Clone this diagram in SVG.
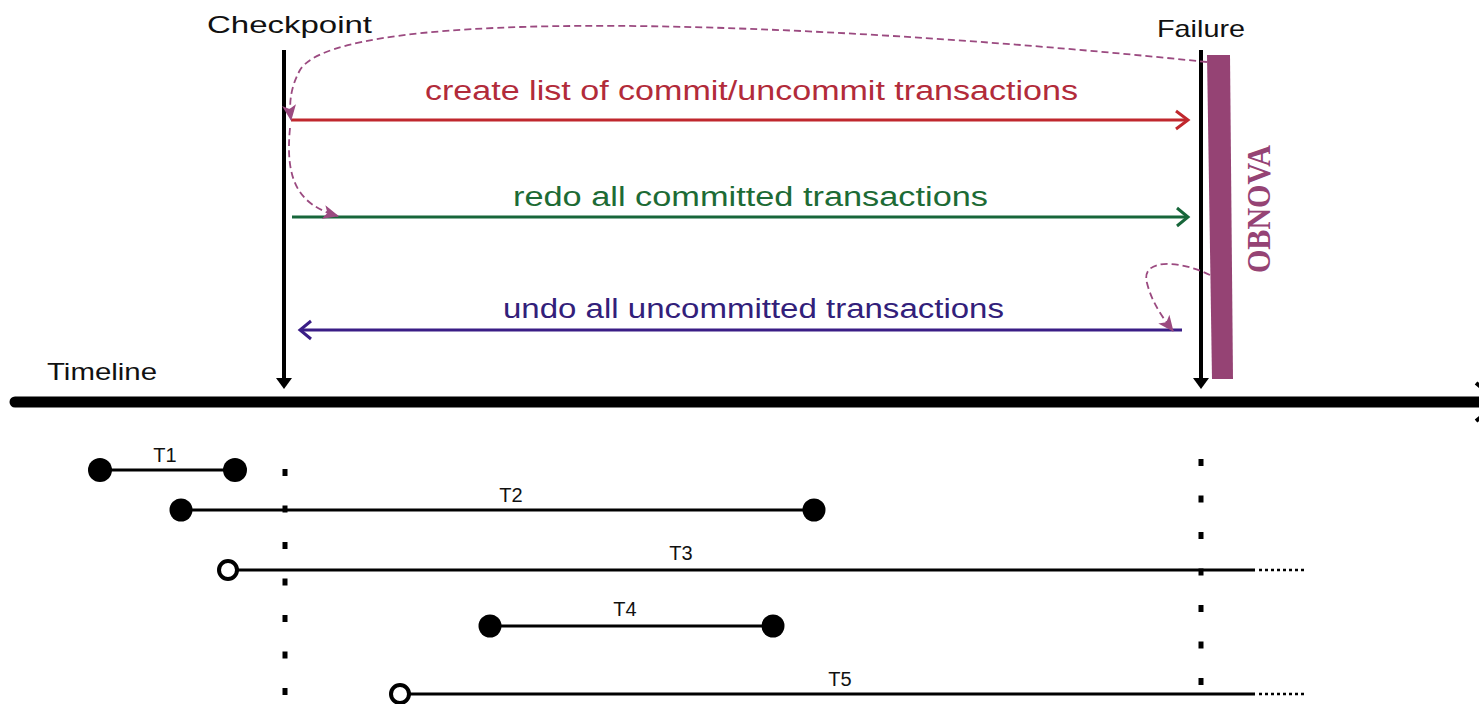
<svg xmlns="http://www.w3.org/2000/svg" width="1479" height="704" viewBox="0 0 1479 704">
<style>
.lbl{font-family:"Liberation Sans",Arial,sans-serif;fill:#111}
.big{font-size:24px}
.t{font-size:20px}
.msg{font-family:"Liberation Sans",Arial,sans-serif;font-size:27px}
.dash{fill:none;stroke:#9b4a80;stroke-width:1.8;stroke-dasharray:7 4}
.tx{stroke:#000;stroke-width:3;fill:none}
.dot{fill:#000}
.open{fill:#fff;stroke:#000;stroke-width:4}
.vdots{stroke:#000;stroke-width:5;fill:none}
.tail{stroke:#000;stroke-width:2.5;stroke-dasharray:3 3;fill:none}
</style>
<defs>
<marker id="pArrow" markerWidth="16" markerHeight="14" refX="15" refY="7" orient="auto" markerUnits="userSpaceOnUse">
<path d="M0,0 L16,7 L0,14 L4,7 Z" fill="#9b4a80"/>
</marker>
</defs>
<rect width="1479" height="704" fill="#fff"/>

<g id="timeline">
<line x1="15" y1="402" x2="1479" y2="402" stroke="#000" stroke-width="11" stroke-linecap="round"/>
<path d="M1476,383 L1500,402 L1476,421" fill="none" stroke="#000" stroke-width="4"/>
<text class="lbl big" x="47" y="380" textLength="110" lengthAdjust="spacingAndGlyphs">Timeline</text>
</g>

<g id="checkpoint">
<line x1="284" y1="50" x2="284" y2="380" stroke="#000" stroke-width="4"/>
<path d="M276,378 L292,378 L284,389 Z" fill="#000"/>
<text class="lbl big" x="207" y="33" textLength="165" lengthAdjust="spacingAndGlyphs">Checkpoint</text>
<line class="vdots" x1="285" y1="469" x2="285" y2="700" stroke-dasharray="7 29.5"/>
</g>

<g id="failure">
<line x1="1201" y1="50" x2="1201" y2="380" stroke="#000" stroke-width="4"/>
<path d="M1193,378 L1209,378 L1201,389 Z" fill="#000"/>
<text class="lbl big" x="1157" y="37" textLength="88" lengthAdjust="spacingAndGlyphs">Failure</text>
<line class="vdots" x1="1201" y1="459" x2="1201" y2="700" stroke-dasharray="7 29.5"/>
</g>

<g id="obnova">
<polygon points="1207,55 1230,55 1233,379 1212,379" fill="#954374"/>
<text transform="translate(1270,209) rotate(-90)" x="0" y="0" text-anchor="middle" font-family="'Liberation Serif','Times New Roman',serif" font-weight="bold" font-size="33" fill="#954374" textLength="128" lengthAdjust="spacingAndGlyphs">OBNOVA</text>
</g>

<g id="create-list">
<line x1="291" y1="120" x2="1187" y2="120" stroke="#c0272d" stroke-width="3"/>
<path d="M1176,111 L1188,120 L1176,129" fill="none" stroke="#c0272d" stroke-width="3"/>
<text class="msg" x="425" y="100" fill="#b22b3a" textLength="653" lengthAdjust="spacingAndGlyphs">create list of commit/uncommit transactions</text>
</g>

<g id="redo">
<line x1="292" y1="217" x2="1187" y2="217" stroke="#17663a" stroke-width="3"/>
<path d="M1177,208 L1188,217 L1177,226" fill="none" stroke="#17663a" stroke-width="3"/>
<text class="msg" x="513" y="206" fill="#1d6b35" textLength="475" lengthAdjust="spacingAndGlyphs">redo all committed transactions</text>
</g>

<g id="undo">
<line x1="301" y1="330" x2="1182" y2="330" stroke="#3a1d86" stroke-width="3"/>
<path d="M311,321 L300,330 L311,339" fill="none" stroke="#3a1d86" stroke-width="3"/>
<text class="msg" x="503" y="318" fill="#32207a" textLength="501" lengthAdjust="spacingAndGlyphs">undo all uncommitted transactions</text>
</g>

<g id="connectors">
<path class="dash" d="M1207,62 C 800,20 340,5 300,70 C 290,88 289,105 291,120" marker-end="url(#pArrow)"/>
<path class="dash" d="M290,128 C 285,180 298,205 338,216" marker-end="url(#pArrow)"/>
<path class="dash" d="M1210,275 C 1180,260 1140,258 1147,283 C 1152,303 1163,318 1173,331" marker-end="url(#pArrow)"/>
</g>

<g id="T1">
<line class="tx" x1="100" y1="470" x2="235" y2="470"/>
<circle class="dot" cx="100" cy="470" r="12"/>
<circle class="dot" cx="235" cy="470" r="12"/>
<text class="lbl t" x="165" y="462" text-anchor="middle">T1</text>
</g>
<g id="T2">
<line class="tx" x1="181" y1="510" x2="814" y2="510"/>
<circle class="dot" cx="181" cy="510" r="11.5"/>
<circle class="dot" cx="814" cy="510" r="11.5"/>
<text class="lbl t" x="511" y="502" text-anchor="middle">T2</text>
</g>
<g id="T3">
<line class="tx" x1="228" y1="570" x2="1255" y2="570"/>
<line class="tail" x1="1259" y1="570" x2="1306" y2="570"/>
<circle class="open" cx="228" cy="570" r="9"/>
<text class="lbl t" x="681" y="560" text-anchor="middle">T3</text>
</g>
<g id="T4">
<line class="tx" x1="490" y1="626" x2="773" y2="626"/>
<circle class="dot" cx="490" cy="626" r="11.5"/>
<circle class="dot" cx="773" cy="626" r="11.5"/>
<text class="lbl t" x="625" y="616" text-anchor="middle">T4</text>
</g>
<g id="T5">
<line class="tx" x1="400" y1="694" x2="1255" y2="694"/>
<line class="tail" x1="1259" y1="694" x2="1306" y2="694"/>
<circle class="open" cx="400" cy="694" r="9"/>
<text class="lbl t" x="840" y="686" text-anchor="middle">T5</text>
</g>
</svg>
